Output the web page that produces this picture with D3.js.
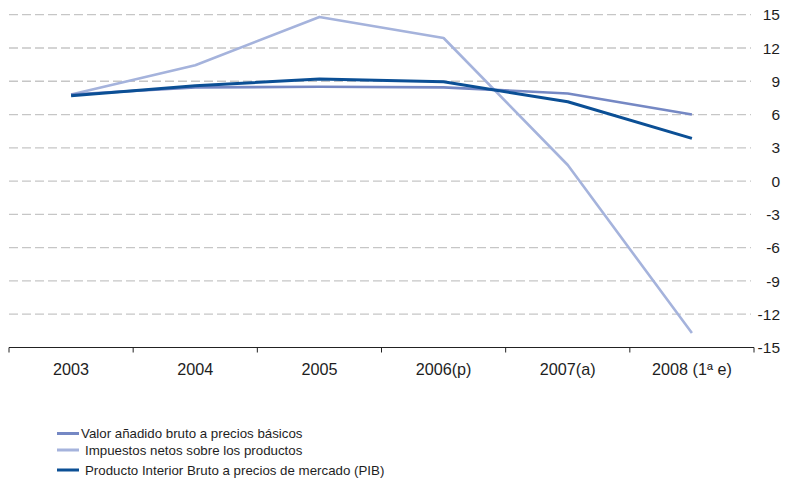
<!DOCTYPE html>
<html lang="es">
	<head>
		<meta charset="UTF-8" />
		<title>Chart</title>
		<style>
			body { margin: 0; background: #fff; }
			text { font-family: "Liberation Sans", Arial, sans-serif; fill: #1e1e1e; }
		</style>
	</head>
	<body>
		<svg width="787" height="482" id="svg"></svg>
		<script src="https://cdn.jsdelivr.net/npm/d3@7/dist/d3.min.js"></script>
		<script>
			const years = ["2003", "2004", "2005", "2006(p)", "2007(a)", "2008 (1ª e)"]
			const valorAnadido = [7.8, 8.45, 8.5, 8.45, 7.9, 6.0]
			const impuestos = [7.8, 10.45, 14.8, 12.9, 1.45, -13.7]
			const pib = [7.7, 8.6, 9.2, 8.95, 7.15, 3.85]
			const yTicks = [15, 12, 9, 6, 3, 0, -3, -6, -9, -12, -15]
			const seriesNames = [
				"Valor añadido bruto a precios básicos",
				"Impuestos netos sobre los productos",
				"Producto Interior Bruto a precios de mercado (PIB)",
			]

			const svg = d3.select("#svg")
			const plot = { left: 9, right: 754, top: 14.7, bottom: 347.5 }

			const x = d3.scaleBand().domain(years).range([plot.left, plot.right])
			const y = d3.scaleLinear().domain([-15, 15]).range([plot.bottom, plot.top])

			// dashed grid
			svg.append("g")
				.selectAll("line")
				.data(yTicks.filter((d) => d > -15))
				.join("line")
				.attr("x1", plot.left)
				.attr("x2", 751)
				.attr("y1", (d) => y(d))
				.attr("y2", (d) => y(d))
				.attr("stroke", "#c6c6c6")
				.attr("stroke-width", 1.3)
				.attr("stroke-dasharray", "9,4")

			// right value labels
			svg.append("g")
				.selectAll("text")
				.data(yTicks)
				.join("text")
				.attr("x", 780)
				.attr("y", (d) => y(d))
				.attr("dy", "0.36em")
				.attr("text-anchor", "end")
				.attr("font-size", 15.5)
				.text((d) => d)

			// bottom axis
			const xAxis = svg.append("g")
			xAxis.append("line")
				.attr("x1", plot.left).attr("x2", plot.right)
				.attr("y1", plot.bottom).attr("y2", plot.bottom)
				.attr("stroke", "#222").attr("stroke-width", 1)
			const bounds = years.map((d) => x(d)).concat([plot.right])
			xAxis.selectAll("line.tk")
				.data(bounds)
				.join("line")
				.attr("class", "tk")
				.attr("x1", (d) => d).attr("x2", (d) => d)
				.attr("y1", plot.bottom).attr("y2", plot.bottom + 5)
				.attr("stroke", "#222")
			xAxis.selectAll("text")
				.data(years)
				.join("text")
				.attr("x", (d) => x(d) + x.bandwidth() / 2)
				.attr("y", 374.5)
				.attr("text-anchor", "middle")
				.attr("font-size", 16.2)
				.text((d) => d)

			const series = [
				{ name: seriesNames[0], values: valorAnadido, color: "#7588c4", width: 2.6 },
				{ name: seriesNames[1], values: impuestos, color: "#a5b3dc", width: 2.6 },
				{ name: seriesNames[2], values: pib, color: "#0b4f95", width: 3 },
			]

			const line = d3.line()
				.x((d, i) => x(years[i]) + x.bandwidth() / 2)
				.y((d) => y(d))

			// light series first, PIB on top
			svg.append("g")
				.selectAll("path")
				.data([series[1], series[0], series[2]])
				.join("path")
				.attr("d", (d) => line(d.values))
				.attr("fill", "none")
				.attr("stroke", (d) => d.color)
				.attr("stroke-width", (d) => d.width)
				.attr("stroke-linejoin", "round")

			// legend
			const legY = [433.5, 450, 470]
			const leg = svg.append("g")
				.selectAll("g")
				.data(series)
				.join("g")
				.attr("transform", (d, i) => `translate(57, ${legY[i]})`)
			leg.append("line")
				.attr("x1", 0).attr("x2", 22)
				.attr("stroke", (d) => d.color)
				.attr("stroke-width", 3)
			leg.append("text")
				.attr("x", (d, i) => (i ? 28 : 24))
				.attr("dy", "0.35em")
				.attr("font-size", 13.3)
				.text((d) => d.name)
		</script>
	</body>
</html>
